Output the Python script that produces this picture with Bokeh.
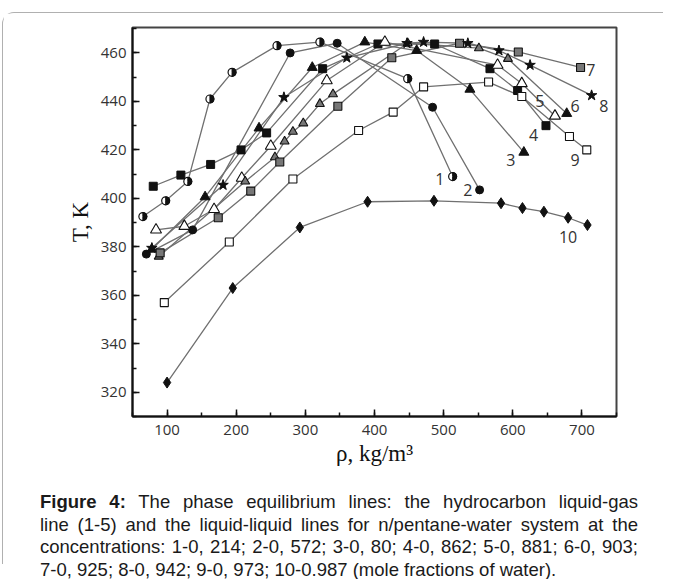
import math
from bokeh.plotting import figure
from bokeh.models import Div, Range1d, SingleIntervalTicker
from bokeh.layouts import column
from bokeh.embed import file_html
from bokeh.resources import INLINE
from bokeh.core.properties import value

# ---- data: density rho (kg/m3) vs temperature T (K)
s1_x = [65, 98, 130, 162, 194, 259, 321, 448, 513]
s1_y = [392.5, 399, 407, 441, 452, 463, 464.5, 449.4, 409]
s2_x = [70, 137, 278, 346, 484, 552]
s2_y = [377, 387, 460, 464, 437.6, 403.5]
s3_x = [78, 155, 233, 310, 386, 461, 538, 616]
s3_y = [379, 400.6, 429, 454, 464.5, 461, 445, 419]
s4_x = [80, 120, 163, 207, 244, 325, 405, 487, 567, 607, 648]
s4_y = [405, 409.6, 414, 420, 427, 453.5, 463.7, 463.7, 453.5, 444.5, 430]
s5_x = [84, 125, 168, 208, 250, 331, 415, 578, 613, 661]
s5_y = [387, 388.5, 395.5, 408.4, 421.6, 448.6, 464.5, 455, 447.4, 434]
s6_x = [88, 213, 256, 270, 282, 297, 321, 340, 448, 551, 593, 678]
s6_y = [376, 407, 417, 423.5, 427.5, 431, 439, 443, 464, 462, 457.6, 435]
s7_x = [90, 174, 221, 263, 347, 425, 523, 608, 698]
s7_y = [377.5, 392, 403, 415, 438, 458, 464, 460.4, 454]
s8_x = [78, 181, 269, 360, 447, 471, 535, 580, 625, 714]
s8_y = [379.5, 405.5, 441.7, 458, 464, 464.5, 464, 461, 455, 442.5]
s9_x = [96, 190, 282, 377, 427, 471, 565, 613, 682, 707]
s9_y = [357, 382, 408, 428, 435.6, 446, 448, 442, 425.5, 420]
s10_x = [100, 195, 292, 390, 486, 583, 614, 645, 680, 708]
s10_y = [324, 363, 388, 398.6, 399, 398, 396, 394.5, 392, 389]

label_text = ["1", "2", "3", "4", "5", "6", "7", "8", "9", "10"]
label_x = [494.5, 535, 597, 630, 639, 690, 713, 731.5, 690, 680]
label_y = [408, 403.5, 416, 426, 440, 438, 453, 438, 415.7, 384]

x_ticks_interval = 100
y_ticks_interval = 20

caption_lines = [
    "<b>Figure 4:</b> The phase equilibrium lines: the hydrocarbon liquid-gas",
    "line (1-5) and the liquid-liquid lines for n/pentane-water system at the",
    "concentrations: 1-0, 214; 2-0, 572; 3-0, 80; 4-0, 862; 5-0, 881; 6-0, 903;",
    "7-0, 925; 8-0, 942; 9-0, 973; 10-0.987 (mole fractions of water).",
]

LINE = "#707070"
INK = "#111111"

p = figure(width=660, height=455, x_range=Range1d(50, 750), y_range=Range1d(310, 470.5),
           output_backend="svg", toolbar_location=None,
           min_border_left=129, min_border_right=47, min_border_top=14, min_border_bottom=47,
           background_fill_color="white", border_fill_color="white")
p.xgrid.visible = False
p.ygrid.visible = False
p.outline_line_color = "#444444"
p.outline_line_width = 2

for ax in (p.xaxis, p.yaxis):
    ax.axis_line_width = 2
    ax.axis_line_color = "#111111"
    ax.major_tick_in = 7
    ax.major_tick_out = 0
    ax.minor_tick_in = 4
    ax.minor_tick_out = 0
    ax.major_tick_line_width = 1.5
    ax.minor_tick_line_width = 1.5
    ax.major_tick_line_color = "#111111"
    ax.minor_tick_line_color = "#111111"
    ax.major_label_text_font = "Open Sans"
    ax.major_label_text_font_size = "15px"
    ax.major_label_text_color = "#333333"
    ax.axis_label_text_font = "Liberation Serif"
    ax.axis_label_text_font_style = "normal"
    ax.axis_label_text_font_size = "23px"
    ax.axis_label_text_color = "#111111"

p.xaxis.ticker = SingleIntervalTicker(interval=x_ticks_interval, num_minor_ticks=2)
p.yaxis.ticker = SingleIntervalTicker(interval=y_ticks_interval, num_minor_ticks=2)
p.xaxis.axis_label = "ρ, kg/m³"
p.yaxis.axis_label = "T, K"
p.xaxis.major_label_standoff = 8
p.yaxis.major_label_standoff = 6
p.xaxis.axis_label_standoff = 3
p.yaxis.axis_label_standoff = 5

all_series = [(s1_x, s1_y), (s2_x, s2_y), (s3_x, s3_y), (s4_x, s4_y), (s5_x, s5_y),
              (s6_x, s6_y), (s7_x, s7_y), (s8_x, s8_y), (s9_x, s9_y), (s10_x, s10_y)]
for xs, ys in all_series:
    p.line(xs, ys, line_color=LINE, line_width=1.3)

# 1: half-filled circles
p.scatter(s1_x, s1_y, marker="circle", size=8, fill_color="white", line_color=INK, line_width=1.2)
p.wedge(s1_x, s1_y, radius=4, radius_units="screen", start_angle=-math.pi / 2,
        end_angle=math.pi / 2, fill_color=INK, line_color=INK)
# 2: filled circles
p.scatter(s2_x, s2_y, marker="circle", size=8, fill_color=INK, line_color=INK)
# 3: filled triangles
p.scatter(s3_x, s3_y, marker="triangle", size=10, fill_color=INK, line_color=INK)
# 4: filled squares
p.scatter(s4_x, s4_y, marker="square", size=8, fill_color=INK, line_color=INK)
# 5: open triangles
p.scatter(s5_x, s5_y, marker="triangle", size=11, fill_color="white", line_color=INK, line_width=1.1)
# 6: half-filled triangles
p.scatter(s6_x[:-1], s6_y[:-1], marker="triangle", size=9, fill_color="#777777", line_color=INK, line_width=1.1)
p.scatter(s6_x[-1:], s6_y[-1:], marker="triangle", size=10, fill_color=INK, line_color=INK)
# 7: half-filled squares
p.scatter(s7_x, s7_y, marker="square", size=8, fill_color="#777777", line_color=INK, line_width=1.1)
# 8: stars
p.scatter(s8_x, s8_y, marker="star", size=11, fill_color=INK, line_color=INK)
# 9: open squares
p.scatter(s9_x, s9_y, marker="square", size=8, fill_color="white", line_color=INK, line_width=1.1)
# 10: filled diamonds
p.scatter(s10_x, s10_y, marker="diamond", size=11, fill_color=INK, line_color=INK)

p.text(x=label_x, y=label_y, text=label_text, text_font=value("Open Sans"), text_font_size="16px",
       text_color="#333333", text_align="center", text_baseline="middle")

rows = "".join(
    '<div style="text-align:justify;text-align-last:justify;white-space:nowrap">%s</div>' % l
    for l in caption_lines[:3]
) + '<div style="white-space:nowrap">%s</div>' % caption_lines[3]
cap_html = ('<div style="margin-left:37px;margin-top:23px;width:598px;'
            "font-family:'Liberation Sans', Arial, sans-serif;font-size:18.5px;"
            'line-height:22.5px;color:#1a1a1a">%s</div>' % rows)

cap = Div(text=cap_html, width=650, height=96, margin=(0, 0, 0, 0))

layout = column(p, cap, margin=(12, 0, 0, 2),
                styles={"border-top": "1px solid #b0b0b0", "border-left": "1px solid #b0b0b0",
                        "border-top-left-radius": "12px", "background": "white"})

open("out.html", "w").write(file_html(layout, INLINE))
